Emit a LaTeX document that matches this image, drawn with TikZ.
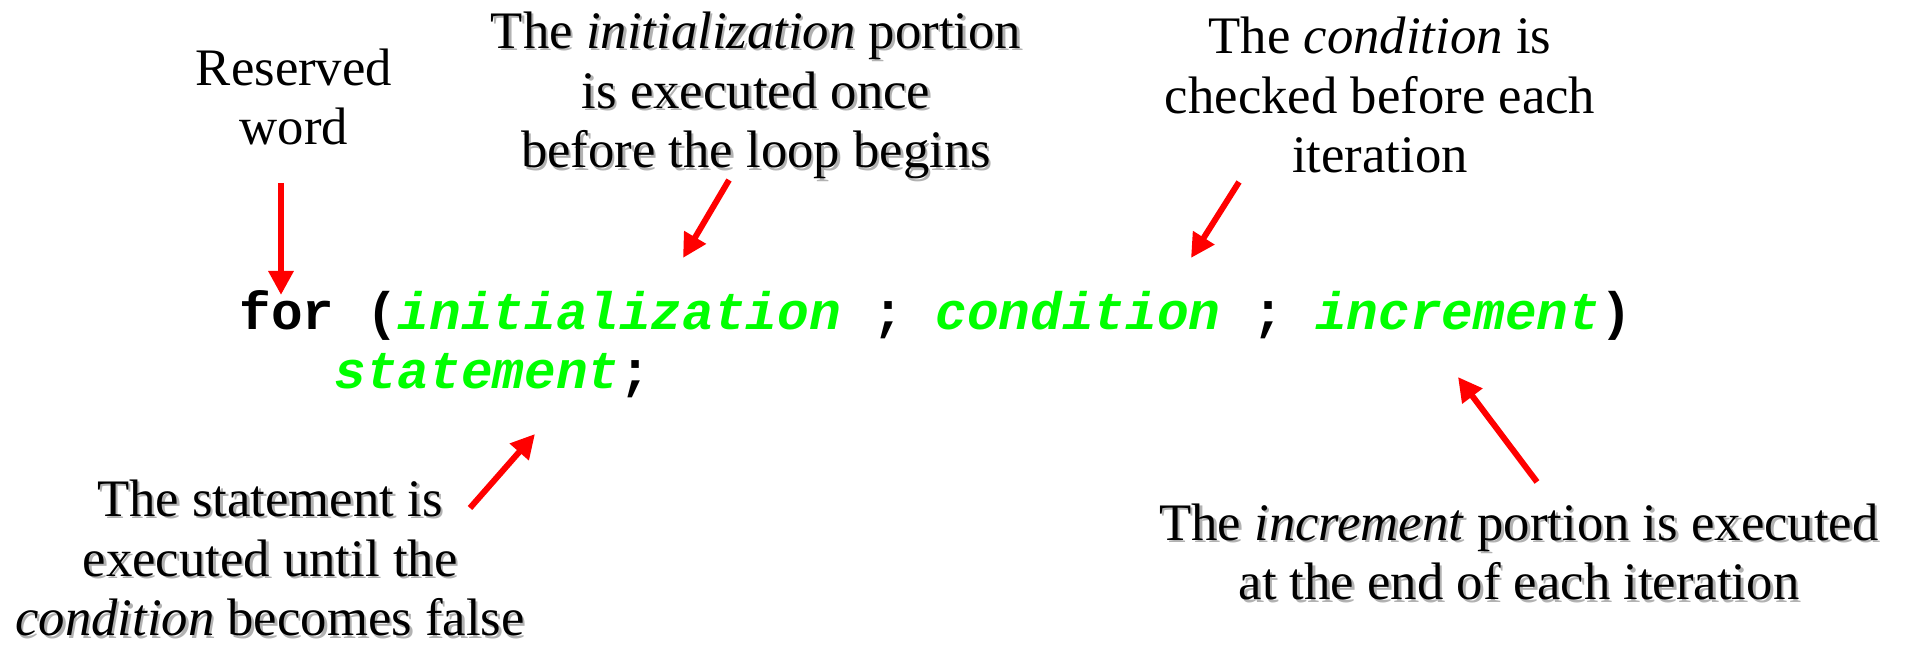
\documentclass[tikz,border=0pt]{standalone}
\usepackage{fontspec}
\setmainfont{Liberation Serif}
\newfontfamily\codefont{Liberation Mono}
\usepackage{xcolor}
\usetikzlibrary{arrows.meta,positioning}
\definecolor{codegreen}{RGB}{0,255,0}
\definecolor{arrowred}{RGB}{255,0,0}
\newcommand{\shd}[1]{\makebox[0pt][l]{\hspace{0.7pt}\raisebox{-0.7pt}{\textcolor{black!30}{#1}}}#1}
\newcommand{\cv}[1]{\textcolor{codegreen}{\itshape #1}}

\begin{document}
\begin{tikzpicture}[x=0.1mm,y=-0.1mm,>={Triangle[length=2.4mm,width=2.4mm]},
                    note/.style={align=center,anchor=base,inner sep=0pt,font=\fontsize{15}{17}\selectfont},
                    code/.style={anchor=base west,inner sep=0pt,font=\fontsize{15}{17}\selectfont\codefont\bfseries},
                    redarrow/.style={->,draw=arrowred,line width=0.6mm}]
  \useasboundingbox (0,0) rectangle (1905,647);

  % notes: anchor is the baseline of the last line
  \node[note] (reserved) at (294,145) {Reserved\\word};
  \node[note] (initnote) at (756,168) {\shd{The \textit{initialization} portion}\\\shd{is executed once}\\\shd{before the loop begins}};
  \node[note] (condnote) at (1380,173) {The \textit{condition} is\\checked before each\\iteration};

  \node[code] (forline) at (239,330) {for (\cv{initialization} ; \cv{condition} ; \cv{increment})};
  \node[code] (stmtline) at (334,389) {\cv{statement};};

  \node[note] (stmtnote) at (270,636) {\shd{The statement is}\\\shd{executed until the}\\\shd{\textit{condition} becomes false}};
  \node[note] (incnote) at (1519,600) {\shd{The \textit{increment} portion is executed}\\\shd{at the end of each iteration}};

  \coordinate (wordtail) at (281,183);
  \coordinate (wordtip) at (281,295);
  \coordinate (inittail) at (729,180);
  \coordinate (inittip) at (683,258);
  \coordinate (condtail) at (1239,182);
  \coordinate (condtip) at (1191,258);
  \coordinate (stmttail) at (470,508);
  \coordinate (stmttip) at (535,434);
  \coordinate (inctail) at (1537,482);
  \coordinate (inctip) at (1458,377);

  \path
    (wordtail) edge[redarrow] (wordtip)
    (inittail) edge[redarrow] (inittip)
    (condtail) edge[redarrow] (condtip)
    (stmttail) edge[redarrow] (stmttip)
    (inctail) edge[redarrow] (inctip);
\end{tikzpicture}
\end{document}
